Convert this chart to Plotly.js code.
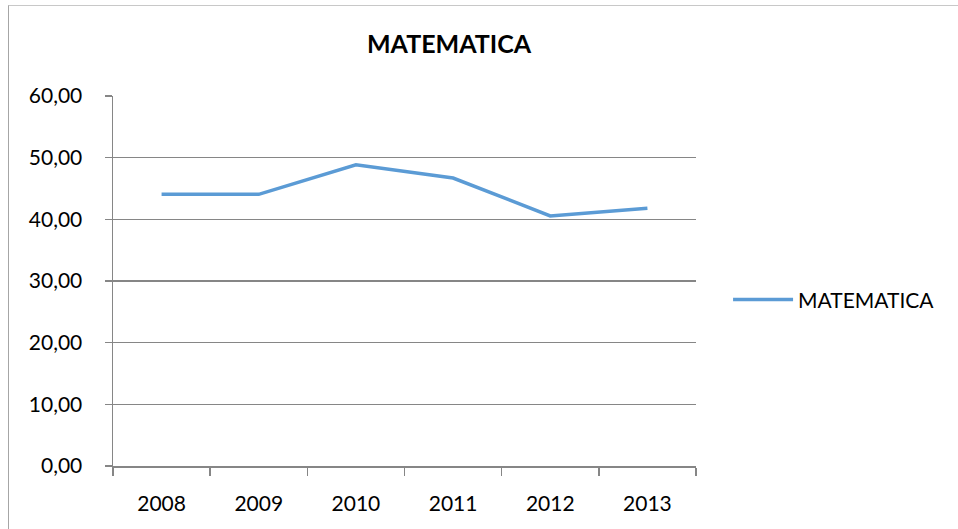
<!DOCTYPE html>
<html><head><meta charset="utf-8">
<script src="https://cdn.plot.ly/plotly-3.0.1.min.js"></script>
<style>
html,body{margin:0;padding:0;background:#fff;overflow:hidden;}
#chart{position:absolute;left:0;top:0;width:958px;height:529px;}
#frame{position:absolute;left:8px;top:5px;width:960px;height:540px;border-left:1px solid #a6a6a6;border-top:1px solid #c8c8c8;pointer-events:none;}
</style></head>
<body>
<div id="chart"></div>
<div id="frame"></div>
<script>
var years = ['2008','2009','2010','2011','2012','2013'];
var matematica = [44.05, 44.05, 48.85, 46.7, 40.55, 41.8];
var yTicks = [0,10,20,30,40,50,60];

var trace = {
  x: years, y: matematica, type: 'scatter', mode: 'lines', name: 'MATEMATICA',
  line: {color: '#5b9bd5', width: 3.5}
};
var layout = {
  width: 958, height: 529,
  margin: {l: 113, r: 262, t: 96, b: 63},
  paper_bgcolor: '#fff', plot_bgcolor: '#fff',
  separators: ',.',
  font: {family: 'Lato, "Open Sans", sans-serif', size: 21, color: '#000'},
  title: {text: '<b>MATEMATICA</b>', x: 449/958, xanchor: 'center', y: 1 - 44/529, yanchor: 'middle',
          font: {family: 'Lato, "Open Sans", sans-serif', size: 25, color: '#000'}},
  xaxis: {type: 'category', range: [-0.5, 5.5], showgrid: false, showline: true,
          linecolor: '#868686', linewidth: 1.5, ticks: 'outside', tickson: 'boundaries',
          ticklen: 8, tickcolor: '#868686', tickwidth: 1.5, ticklabelstandoff: 18,
          tickfont: {size: 21}},
  yaxis: {range: [0, 60], tickvals: yTicks, tickformat: '.2f', showgrid: true,
          gridcolor: '#868686', gridwidth: 1.5, showline: true, linecolor: '#868686', linewidth: 1.5,
          ticks: 'outside', ticklen: 7, tickcolor: '#868686', tickwidth: 1.5, zeroline: false,
          ticklabelstandoff: 18, tickfont: {size: 21}},
  showlegend: true,
  legend: {x: 1.055, xanchor: 'left', y: 0.449, yanchor: 'middle', font: {size: 21},
           itemwidth: 60, bgcolor: 'rgba(0,0,0,0)'}
};
Plotly.newPlot('chart', [trace], layout, {staticPlot: true, displayModeBar: false});
</script>
</body></html>
